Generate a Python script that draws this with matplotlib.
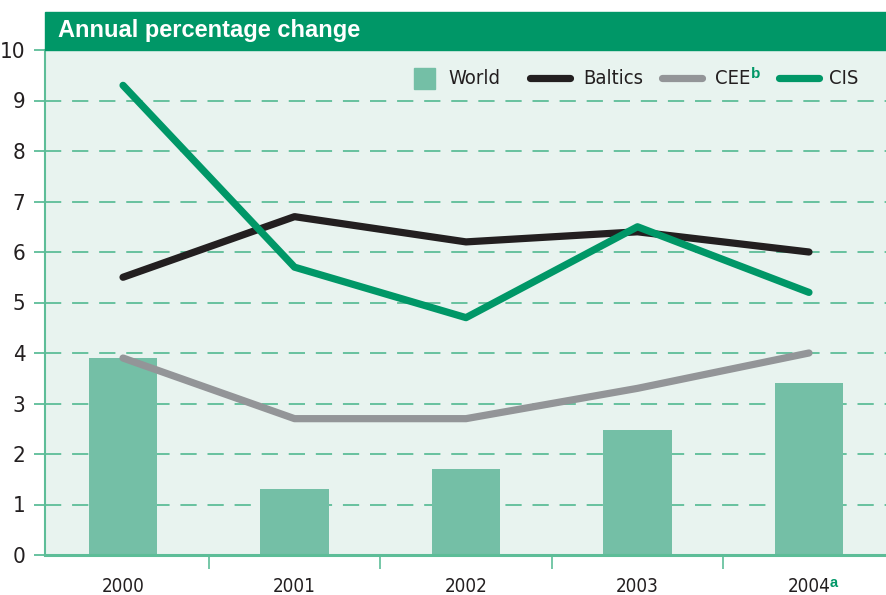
import matplotlib.pyplot as plt
from matplotlib.patches import Rectangle

years = ["2000", "2001", "2002", "2003", "2004"]
world = [3.9, 1.3, 1.7, 2.48, 3.4]
baltics = [5.5, 6.7, 6.2, 6.4, 6.0]
cee = [3.9, 2.7, 2.7, 3.3, 4.0]
cis = [9.3, 5.7, 4.7, 6.5, 5.2]

GREEN = "#009767"
BAR = "#74bfa6"
BG = "#e8f3ef"
GRID = "#5dbd98"
BLACK = "#231f20"
GREY = "#939598"

plt.rcParams['font.family'] = ['DejaVu Sans']
plt.rcParams['font.stretch'] = 'condensed'

W, H = 887, 595
fig = plt.figure(figsize=(W / 100, H / 100), dpi=100)
ax = fig.add_axes([45 / W, (H - 555) / H, (W - 45) / W, (555 - 50) / H])
ax.set_facecolor(BG)

x = range(len(years))
ax.bar(x, world, width=0.40, color=BAR, zorder=2)
kw = dict(linewidth=5.2, solid_capstyle='round', solid_joinstyle='round', zorder=3)
ax.plot(x, baltics, color=BLACK, **kw)
ax.plot(x, cee, color=GREY, **kw)
ax.plot(x, cis, color=GREEN, **kw)

ax.set_xlim(-0.455, 4.455)
ax.set_ylim(0, 10)
ax.set_yticks(range(0, 11))
ax.set_yticklabels([str(v) for v in range(0, 11)], fontsize=16, color=BLACK)
for v in range(1, 10):
    ax.axhline(v, color=GRID, linewidth=1.3, dashes=(9, 6), zorder=1)
ax.tick_params(axis='y', length=8, width=1.3, color=GRID, pad=6)

ax.set_xticks([i + 0.5 for i in range(4)])
ax.set_xticklabels([])
ax.set_xticks(list(x), minor=True)
ax.set_xticklabels(years, minor=True, fontsize=13.5, color=BLACK)
ax.tick_params(axis='x', which='major', length=10, width=1.2, color=GRID)
ax.tick_params(axis='x', which='minor', length=0, pad=15.5)

for s in ['top', 'right']:
    ax.spines[s].set_visible(False)
for s in ['left', 'bottom']:
    ax.spines[s].set_color(GRID)
ax.spines['left'].set_linewidth(1.5)
ax.spines['bottom'].set_linewidth(2.2)

# header band
fig.patches.append(Rectangle((45 / W, (H - 50) / H), (W - 45) / W, 38 / H,
                             transform=fig.transFigure, color=GREEN, zorder=0))
fig.text(58 / W, (H - 31) / H, "Annual percentage change", color="white",
         fontsize=17, fontweight='bold', va='center', stretch='normal',
         family=['Liberation Sans', 'DejaVu Sans'])


# legend drawn by hand, positions in pixels of the figure
def ax_xy(px, py):
    return (px - 45) / 842, (555 - py) / 505


ly = 78
x0, y0 = ax_xy(414, 89)
ax.add_patch(Rectangle((x0, y0), 21 / 842, 21 / 505, color=BAR,
                       transform=ax.transAxes, clip_on=False, zorder=4))
for (a, b), col in [((530, 570), BLACK), ((662, 702), GREY), ((779, 819), GREEN)]:
    xa, yy = ax_xy(a, ly)
    xb, _ = ax_xy(b, ly)
    ax.plot([xa, xb], [yy, yy], color=col, linewidth=5.2, solid_capstyle='round',
            transform=ax.transAxes, clip_on=False, zorder=4)
for px, name in [(448, "World"), (583, "Baltics"), (715, "CEE"), (829, "CIS")]:
    tx, ty = ax_xy(px, ly)
    t = ax.text(tx, ty, name, fontsize=14.5, color=BLACK, va='center', ha='left',
                transform=ax.transAxes, zorder=4)
    if name == "CEE":
        t_cee = t

fig.canvas.draw()
r = fig.canvas.get_renderer()
inv = fig.transFigure.inverted()

bb = t_cee.get_window_extent(r)
px, py = inv.transform((bb.x1 + 0.5, bb.y1 + 1))
fig.text(px, py, "b", color=GREEN, fontsize=11, fontweight='bold', va='top',
         stretch='normal', family=['Liberation Sans', 'DejaVu Sans'])

lab = ax.get_xticklabels(minor=True)[-1]
bb = lab.get_window_extent(r)
px, py = inv.transform((bb.x1 - 0.5, bb.y1 + 1))
fig.text(px, py, "a", color=GREEN, fontsize=10.5, fontweight='bold', va='top',
         stretch='normal', family=['Liberation Sans', 'DejaVu Sans'])

fig.savefig("out.png", dpi=100)
